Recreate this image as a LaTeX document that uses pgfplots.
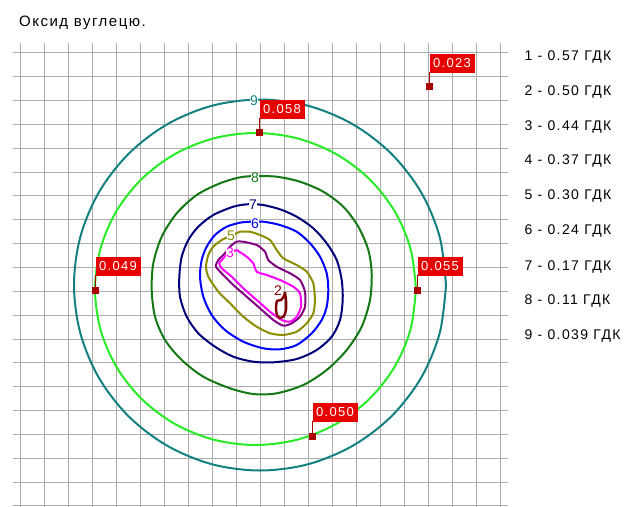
\documentclass[border=0pt]{standalone}
\usepackage{fontspec}
\setmainfont{Liberation Sans}
\newfontfamily\spfont[LetterSpace=10]{Liberation Sans}
\usepackage{pgfplots}
\pgfplotsset{compat=1.18}
\definecolor{c9}{RGB}{20,128,128}
\definecolor{cz}{RGB}{40,235,40}
\definecolor{c8}{RGB}{20,120,20}
\definecolor{c7}{RGB}{0,0,120}
\definecolor{c6}{RGB}{0,0,255}
\definecolor{c5}{RGB}{140,140,0}
\definecolor{c4}{RGB}{128,0,128}
\definecolor{c3}{RGB}{255,0,255}
\definecolor{c2}{RGB}{128,0,0}
\definecolor{boxred}{RGB}{230,0,0}
\definecolor{mk}{RGB}{170,0,0}
\newcommand\legfont{\spfont\fontsize{14bp}{16bp}\selectfont}
\newcommand\titfont{\spfont\fontsize{15bp}{17bp}\selectfont}
\newcommand\lblfont{\fontsize{14bp}{16bp}\selectfont}
\newcommand\boxfont{\spfont\fontsize{13bp}{15bp}\selectfont}
\begin{document}
\begin{tikzpicture}
\useasboundingbox (0,0) rectangle (641bp,507bp);
\begin{axis}[at={(13bp,0bp)}, anchor=south west, scale only axis,
  width=495bp, height=464bp, xmin=13, xmax=508, ymin=43, ymax=507,
  y dir=reverse, clip=false,
  xtick={20,44,...,500}, ytick={52.7,76.55,...,507},
  xticklabels={}, yticklabels={}, major tick length=0pt,
  axis line style={draw=none}, grid=major,
  grid style={draw=black!32, line width=0.8bp},
  every axis plot/.append style={line width=2bp}]
% 9 teal
\addplot[c9, smooth, tension=0.55] coordinates {
(446,285) (439.7,237.0) (421.1,192.3) (391.5,153.9) (353.0,124.4) (308.2,105.8)
(260,99.5) (211.8,105.8) (167.0,124.4) (128.5,153.9) (98.9,192.3) (80.3,237.0)
(74,285) (80.3,333.0) (98.9,377.8) (128.5,416.2) (167.0,445.6) (211.8,464.2)
(260,470.5) (308.2,464.2) (353.0,445.6) (391.5,416.2) (421.1,377.8) (439.7,333.0) (446,285)};
% zone light green
\addplot[cz, smooth, tension=0.55] coordinates {
(416,289) (410.5,248.6) (394.5,211) (369.0,178.7) (335.8,153.9) (297.1,138.3)
(255.5,133) (213.9,138.3) (175.2,153.9) (142.0,178.7) (116.5,211) (100.5,248.6)
(95,289) (100.5,329.4) (116.5,367) (142.0,399.3) (175.2,424.1) (213.9,439.7)
(255.5,445) (297.1,439.7) (335.8,424.1) (369.0,399.3) (394.5,367) (410.5,329.4) (416,289)};
% 8 dark green
\addplot[c8, smooth, tension=0.5] coordinates {
(255,176) (276.7,176.7) (300,181.7) (323.3,191.7) (343.3,206.7) (358.3,226.7)
(368.3,250) (371.7,273.3) (370,300) (361.7,326.7) (346.7,350) (326.7,370)
(303.3,385) (276.7,393.3) (253.3,394) (230,388.3) (203.3,376.7) (181.7,360)
(165,340) (155,316.7) (151.7,290) (153.3,263.3) (161.7,236.7) (176.7,213.3)
(196.7,195) (220,183.3) (240,177.3) (255,176)};
% 7 navy
\addplot[c7, smooth, tension=0.5] coordinates {
(253.3,204.3) (263.3,205) (280,209.3) (296.7,216.7) (313.3,228.3) (326.7,243.3)
(336.7,260) (341.7,280) (342.7,300) (340,320) (331.7,336.7) (316.7,350)
(296.7,359) (273.3,362.3) (253.3,361.7) (233.3,356.7) (215,346.7) (198.3,333.3)
(186.7,316.7) (180,296.7) (179.3,276.7) (181.7,256.7) (188.3,240) (198.3,226.7)
(213.3,215) (233.3,206.7) (246.7,204.3) (253.3,204.3)};
% 6 blue
\addplot[c6, smooth, tension=0.5] coordinates {
(250,221.7) (263.3,221.7) (280,225) (296.7,231.7) (310,243.3) (320,256.7)
(326.7,273.3) (328.3,290) (326.7,306.7) (321.7,320) (311.7,333.3) (296.7,345)
(280,349.3) (263.3,348.3) (243.3,341.7) (225,330) (211.7,315) (203.3,296.7)
(200,276.7) (201.7,260) (206.7,246.7) (215,235) (226.7,226.7) (240,222.7) (250,221.7)};
% 5 olive
\addplot[c5, smooth, tension=0.4] coordinates {
(240,231.7) (250,231.7) (260,235) (270,240) (276.7,250) (283.3,258.3)
(296.7,265) (306.7,271.7) (313.3,283.3) (315,300) (313.3,313.3) (306.7,323.3)
(296.7,331.7) (283.3,335) (270,333.3) (256.7,326.7) (243.3,316.7) (230,303.3)
(218.3,291.7) (208.3,276.7) (206,266.7) (208.3,255) (213.3,246.7) (221.7,240)
(227.3,237.3) (240,231.7)};
% 4 purple
\addplot[c4, smooth, tension=0.4] coordinates {
(243.3,241.7) (256.7,245) (265,251.7) (268.3,260) (276.7,266.7) (290,273.3)
(300,280) (305,291.7) (305,306.7) (300,316.7) (291.7,323.3) (283.3,325.7)
(273.3,320) (260,308.3) (246.7,296.7) (233.3,285) (223.3,275) (216,266.7)
(218.3,260) (225,253.3) (230,246.7) (236.7,241.7) (243.3,241.7)};
% 3 magenta
\addplot[c3, smooth, tension=0.4] coordinates {
(236.7,250) (246.7,256.7) (253.3,263.3) (256.7,271.7) (266.7,275) (280,280)
(293.3,286.7) (300,293.3) (301,306.7) (296.7,316.7) (290,321.7) (281.7,320)
(270,311.7) (256.7,300) (243.3,288.3) (231.7,276.7) (221.7,268.3) (219.3,263.3)
(223.3,258.3) (228.3,253.3) (236.7,250)};
% 2 dark red
\addplot[c2, smooth, tension=0.4, line width=2.4bp] coordinates {
(285,292) (286,300) (286,310) (284,316) (280,318) (277,315) (276,308)
(277,301) (281,300) (284,296) (285,292)};
% contour labels
\node[fill=white, inner sep=0.5bp, text=c9, font=\lblfont] at (axis cs:254,101) {9};
\node[fill=white, inner sep=0.5bp, text=c8, font=\lblfont] at (axis cs:255,178) {8};
\node[fill=white, inner sep=0.5bp, text=c7, font=\lblfont] at (axis cs:253,205) {7};
\node[fill=white, inner sep=0.5bp, text=c6, font=\lblfont] at (axis cs:255,224) {6};
\node[fill=white, inner sep=0.5bp, text=c5, font=\lblfont] at (axis cs:231,236) {5};
\node[fill=white, inner sep=0.5bp, text=c3, font=\lblfont] at (axis cs:230,253) {3};
\node[fill=white, inner sep=0.5bp, text=c2, font=\lblfont] at (axis cs:278,291) {2};
% value flags
\addplot[mk, line width=0.9bp, forget plot] coordinates {(429,87) (429,72)};
\addplot[mk, line width=0.9bp, forget plot] coordinates {(259,133) (259,118)};
\addplot[mk, line width=0.9bp, forget plot] coordinates {(95,290) (95,275)};
\addplot[mk, line width=0.9bp, forget plot] coordinates {(417,290) (417,275)};
\addplot[mk, line width=0.9bp, forget plot] coordinates {(312,436) (312,421)};
\addplot[only marks, mark=square*, mark size=2.5bp, mk,
  point meta=explicit symbolic, nodes near coords,
  every node near coord/.style={anchor=south west, xshift=-0.5bp, yshift=13bp,
    fill=boxred, text=white, font=\boxfont, inner sep=0pt,
    minimum width=45bp, minimum height=19bp}] coordinates {
(429,87) [0.023]
(259,133) [0.058]
(95,290) [0.049]
(417,290) [0.055]
(312,436) [0.050]};
% legend
\node[anchor=west, font=\legfont] at (axis cs:521,57) {1 - 0.57 ГДК};
\node[anchor=west, font=\legfont] at (axis cs:521,92) {2 - 0.50 ГДК};
\node[anchor=west, font=\legfont] at (axis cs:521,127) {3 - 0.44 ГДК};
\node[anchor=west, font=\legfont] at (axis cs:521,161) {4 - 0.37 ГДК};
\node[anchor=west, font=\legfont] at (axis cs:521,196) {5 - 0.30 ГДК};
\node[anchor=west, font=\legfont] at (axis cs:521,231) {6 - 0.24 ГДК};
\node[anchor=west, font=\legfont] at (axis cs:521,267) {7 - 0.17 ГДК};
\node[anchor=west, font=\legfont] at (axis cs:521,301) {8 - 0.11 ГДК};
\node[anchor=west, font=\legfont] at (axis cs:521,336) {9 - 0.039 ГДК};
% title
\node[anchor=base west, font=\titfont, inner sep=0pt] at (axis cs:19,27) {Оксид вуглецю.};
\end{axis}
\end{tikzpicture}
\end{document}
